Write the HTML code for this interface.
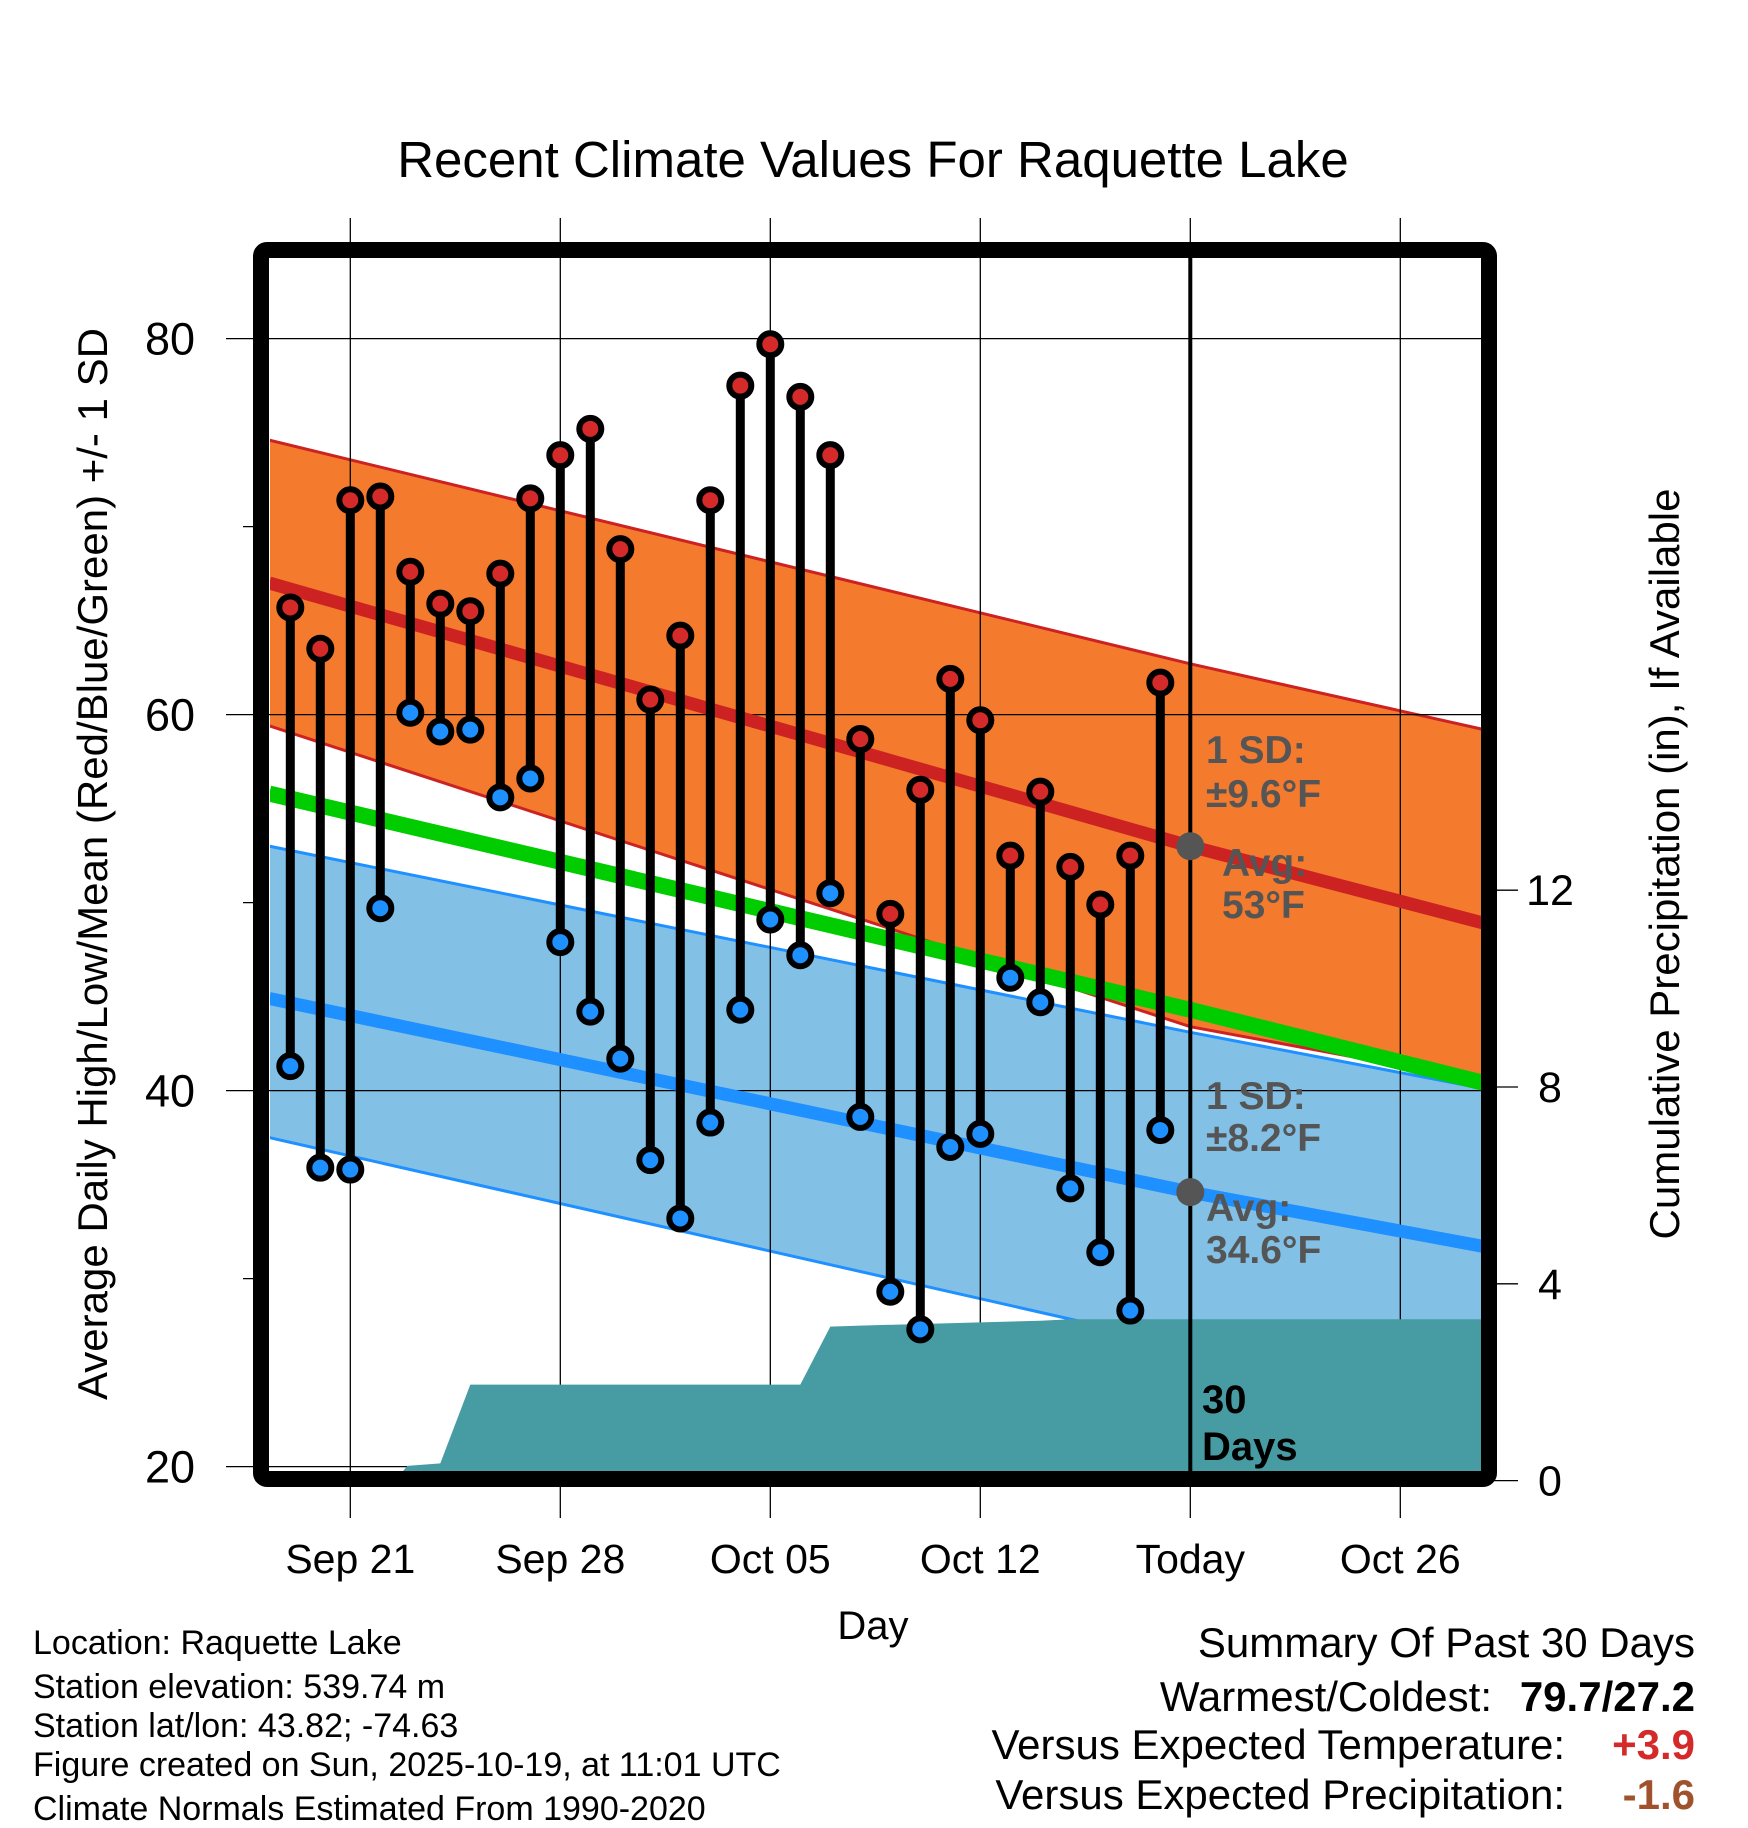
<!DOCTYPE html>
<html><head><meta charset="utf-8"><style>
html,body{margin:0;padding:0;background:#fff}
svg{display:block;font-family:"Liberation Sans",Arial,sans-serif}
</style></head><body>
<svg id="chart" width="1748" height="1828" viewBox="0 0 1748 1828" xmlns="http://www.w3.org/2000/svg">
<defs><clipPath id="plotClip"><rect x="270" y="258" width="1211" height="1213"/></clipPath></defs>
<text x="873" y="177" font-size="51" text-anchor="middle">Recent Climate Values For Raquette Lake</text>
<g id="fills" clip-path="url(#plotClip)"></g>
<g id="grid"></g>
<g id="precip" clip-path="url(#plotClip)"></g>
<g id="normals" clip-path="url(#plotClip)"></g>
<g id="marks"></g>
<rect x="261" y="250" width="1228" height="1229" rx="6" fill="none" stroke="#000" stroke-width="16"/>
<g id="axes"></g>
<g font-weight="bold" font-size="39" fill="#555">
<text x="1206" y="763">1 SD:</text>
<text x="1206" y="807">±9.6°F</text>
<text x="1222" y="876">Avg:</text>
<text x="1222" y="918">53°F</text>
<text x="1206" y="1109">1 SD:</text>
<text x="1206" y="1151">±8.2°F</text>
<text x="1206" y="1221">Avg:</text>
<text x="1206" y="1263">34.6°F</text>
</g>
<g font-weight="bold" font-size="40" fill="#000">
<text x="1202" y="1413">30</text>
<text x="1202" y="1460">Days</text>
</g>
<text transform="translate(107,864) rotate(-90)" font-size="42" text-anchor="middle">Average Daily High/Low/Mean (Red/Blue/Green) +/- 1 SD</text>
<text transform="translate(1679,864) rotate(-90)" font-size="42" text-anchor="middle">Cumulative Precipitation (in), If Available</text>
<text x="873" y="1639" font-size="40" text-anchor="middle">Day</text>
<g font-size="34" fill="#000">
<text x="33" y="1654">Location: Raquette Lake</text>
<text x="33" y="1698">Station elevation: 539.74 m</text>
<text x="33" y="1737">Station lat/lon: 43.82; -74.63</text>
<text x="33" y="1776">Figure created on Sun, 2025-10-19, at 11:01 UTC</text>
<text x="33" y="1820">Climate Normals Estimated From 1990-2020</text>
</g>
<g font-size="42">
<text x="1695" y="1657" text-anchor="end">Summary Of Past 30 Days</text>
<text x="1492" y="1711" text-anchor="end">Warmest/Coldest:</text>
<text x="1695" y="1711" text-anchor="end" font-weight="bold">79.7/27.2</text>
<text x="1565" y="1759" text-anchor="end">Versus Expected Temperature:</text>
<text x="1695" y="1759" text-anchor="end" font-weight="bold" fill="#d42a2a">+3.9</text>
<text x="1565" y="1809" text-anchor="end">Versus Expected Precipitation:</text>
<text x="1695" y="1809" text-anchor="end" font-weight="bold" fill="#a0522d">-1.6</text>
</g>
</svg>
<script>
// Data (day offsets relative to Sep 21)
const dayOffsets = [-2,-1,0,1,2,3,4,5,6,7,8,9,10,11,12,13,14,15,16,17,18,19,20,21,22,23,24,25,26,27];
const highs = [65.7,63.5,71.4,71.6,67.6,65.9,65.5,67.5,71.5,73.8,75.2,68.8,60.8,64.2,71.4,77.5,79.7,76.9,73.8,58.7,49.4,56.0,61.9,59.7,52.5,55.9,51.9,49.9,52.5,61.7];
const lows = [41.3,35.9,35.8,49.7,60.1,59.1,59.2,55.6,56.6,47.9,44.2,41.7,36.3,33.2,38.3,44.3,49.1,47.2,50.5,38.6,29.3,27.3,37.0,37.7,46.0,44.7,34.8,31.4,28.3,37.9];
const normalKnots = [-2.7,28,37.8];
const highUpper = [74.6,62.7,59.2];
const highAvg = [67.0,53.0,48.9];
const highLower = [59.4,43.4,40.5];
const meanAvg = [55.8,44.3,40.4];
const lowUpper = [53.0,43.1,40.1];
const lowAvg = [44.9,34.6,31.7];
const lowLower = [37.5,26.4,23.5];
const precipDays = [-2.7,1.5,1.9,3.0,4.0,15.0,16.0,17.0,23.0,24.0,37.8];
const precipCum = [0,0,0.3,0.35,1.95,1.95,3.13,3.15,3.25,3.28,3.28];
const todayOffset = 28;
const todayHighAvg = 53.0;
const todayLowAvg = 34.6;
const xTickDays = [0,7,14,21,28,35];
const xTickLabels = ["Sep 21","Sep 28","Oct 05","Oct 12","Today","Oct 26"];
const yTicks = [80,60,40,20];
const yMinor = [70,50,30];
const pTicks = [0,4,8,12];

const NS="http://www.w3.org/2000/svg";
const xOf=d=>350.3+30.0*d;
const yOf=t=>338.6+(80-t)*18.8;
const yP=p=>1480.6-p*49.2;
function mk(tag,attrs,parent){const e=document.createElementNS(NS,tag);for(const k in attrs)e.setAttribute(k,attrs[k]);parent.appendChild(e);return e;}
const G=id=>document.getElementById(id);
function pts(arr){return normalKnots.map((d,i)=>xOf(d)+","+yOf(arr[i]));}
function band(up,lo,fill,parent,name){
  const p=pts(up).concat(pts(lo).reverse());
  const e=mk('polygon',{points:p.join(' '),fill:fill},parent);
  
  
}
function line(arr,color,w,parent,name){
  const e=mk('polyline',{points:pts(arr).join(' '),fill:'none',stroke:color,'stroke-width':w},parent);
  
  
}
const fills=G('fills');
band(lowUpper,lowLower,'#82c0e6',fills,'low-sd-band');
band(highUpper,highLower,'#f47a2e',fills,'high-sd-band');
line(highUpper,'#cc2222',3,fills,'high-upper-edge');
line(highLower,'#cc2222',3,fills,'high-lower-edge');
line(lowUpper,'#1e90ff',3,fills,'low-upper-edge');
line(lowLower,'#1e90ff',3,fills,'low-lower-edge');

const grid=G('grid');
xTickDays.forEach((d,i)=>{
  const e=mk('line',{x1:xOf(d),x2:xOf(d),y1:218,y2:1518,stroke:'#000','stroke-width':1.3},grid);
  
  
});
yTicks.forEach(t=>{
  const e=mk('line',{x1:226,x2:1481,y1:yOf(t),y2:yOf(t),stroke:'#000','stroke-width':1.3},grid);
  
  
});

const pg=G('precip');
const pp=precipDays.map((d,i)=>xOf(d)+","+yP(precipCum[i]));
pp.push(xOf(precipDays[precipDays.length-1])+","+yP(0));
pp.push(xOf(precipDays[0])+","+yP(0));
const pe=mk('polygon',{points:pp.join(' '),fill:'#479ca4'},pg);



const ng=G('normals');
line(meanAvg,'#00cc00',16,ng,'mean-normal-line');
line(highAvg,'#cc2222',13,ng,'high-normal-line');
line(lowAvg,'#1e90ff',13,ng,'low-normal-line');
const tl=mk('line',{x1:xOf(todayOffset),x2:xOf(todayOffset),y1:258,y2:1480,stroke:'#000','stroke-width':4},ng);


[todayHighAvg,todayLowAvg].forEach(v=>{
  const c=mk('circle',{cx:xOf(todayOffset),cy:yOf(v),r:14,fill:'#555'},ng);
  
  
});

const mg=G('marks');
dayOffsets.forEach((d,i)=>{
  const x=xOf(d);
  const s=mk('line',{x1:x,x2:x,y1:yOf(highs[i]),y2:yOf(lows[i]),stroke:'#000','stroke-width':9},mg);
  
  
  const h=mk('circle',{cx:x,cy:yOf(highs[i]),r:11,fill:'#d42a2a',stroke:'#000','stroke-width':6},mg);
  
  
  const l=mk('circle',{cx:x,cy:yOf(lows[i]),r:11,fill:'#1e90ff',stroke:'#000','stroke-width':6},mg);
  
  
});

const ax=G('axes');
yTicks.forEach(t=>{
  const e=mk('text',{x:195,y:yOf(t)+16,'font-size':45,'text-anchor':'end'},ax);
  e.textContent=t;
  
  
});
yMinor.forEach(t=>{
  const e=mk('line',{x1:243,x2:262,y1:yOf(t),y2:yOf(t),stroke:'#000','stroke-width':1.3},ax);
  
  
});
pTicks.forEach(p=>{
  const e=mk('line',{x1:1490,x2:1518,y1:yP(p),y2:yP(p),stroke:'#000','stroke-width':1.3},ax);
  
  
  const t=mk('text',{x:1550,y:yP(p)+15,'font-size':43,'text-anchor':'middle'},ax);
  t.textContent=p;
  
  
});
xTickDays.forEach((d,i)=>{
  const t=mk('text',{x:xOf(d),y:1573,'font-size':41,'text-anchor':'middle'},ax);
  t.textContent=xTickLabels[i];
  
  
});
</script>
</body></html>
